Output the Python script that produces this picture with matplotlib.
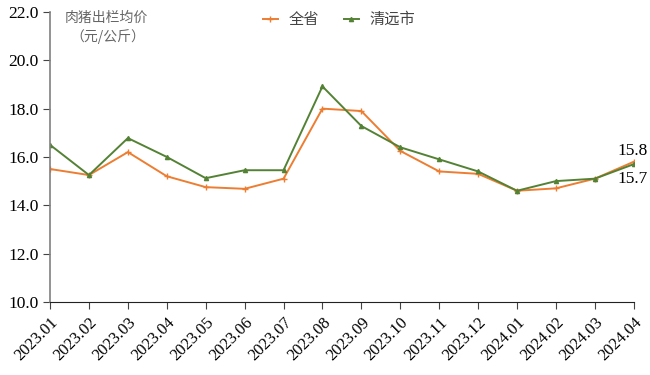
import matplotlib
matplotlib.use('Agg')
import matplotlib.pyplot as plt

months = ['2023.01', '2023.02', '2023.03', '2023.04', '2023.05', '2023.06',
          '2023.07', '2023.08', '2023.09', '2023.10', '2023.11', '2023.12',
          '2024.01', '2024.02', '2024.03', '2024.04']
province = [15.5, 15.25, 16.2, 15.2, 14.75, 14.68, 15.1, 18.0, 17.9, 16.25,
            15.4, 15.3, 14.6, 14.7, 15.1, 15.8]
qingyuan = [16.5, 15.25, 16.78, 16.0, 15.12, 15.45, 15.45, 18.92, 17.28, 16.4,
            15.9, 15.4, 14.6, 15.0, 15.1, 15.7]
series_names = ['全省', '清远市']

serif = ['Liberation Serif', 'DejaVu Serif']
cjk = ['Noto Sans CJK SC', 'DejaVu Sans']

fig = plt.figure(figsize=(6.5, 3.75), dpi=100)
ax = fig.add_axes([0.077, 0.195, 0.898, 0.773])

x = list(range(len(months)))
ax.plot(x, province, color='#ED7D31', lw=1.4, marker='+', ms=4, mew=1, label=series_names[0])
ax.plot(x, qingyuan, color='#548235', lw=1.4, marker='^', ms=3, label=series_names[1])

ax.set_xlim(0, len(months) - 1)
ax.set_ylim(10, 22)
ax.set_yticks([10, 12, 14, 16, 18, 20, 22])
ax.set_yticklabels([f'{v:.1f}' for v in [10, 12, 14, 16, 18, 20, 22]], family=serif, fontsize=12.5)
ax.set_xticks(x)
ax.set_xticklabels(months, rotation=45, ha='right', rotation_mode='anchor', family=serif, fontsize=12)
ax.tick_params(axis='both', direction='out', length=5, color='#444444')
ax.tick_params(axis='x', pad=4)
ax.tick_params(axis='y', pad=3)

for s in ['top', 'right']:
    ax.spines[s].set_visible(False)
ax.spines['left'].set_color('#808080')
ax.spines['left'].set_linewidth(1.2)
ax.spines['bottom'].set_color('#222222')

# end-point value labels
ax.annotate(f'{province[-1]:.1f}', (x[-1], province[-1]), xytext=(-12, 2), textcoords='offset points',
            family=serif, fontsize=12.5, ha='left', va='bottom', annotation_clip=False)
ax.annotate(f'{qingyuan[-1]:.1f}', (x[-1], qingyuan[-1]), xytext=(-12, -5), textcoords='offset points',
            family=serif, fontsize=12.5, ha='left', va='top', annotation_clip=False)

fig.text(0.10, 0.952, '肉猪出栏均价', family=cjk, fontsize=10, color='#666666', ha='left', va='center')
fig.text(0.108, 0.902, '（元/公斤）', family=cjk, fontsize=10, color='#666666', ha='left', va='center')

leg = ax.legend(loc='upper center', bbox_to_anchor=(0.495, 1.05), ncol=2, frameon=False,
                prop={'family': cjk, 'size': 11}, handlelength=1.0, handletextpad=0.7,
                columnspacing=1.6)
for t in leg.get_texts():
    t.set_color('#444444')

fig.savefig('out.png', dpi=100)
